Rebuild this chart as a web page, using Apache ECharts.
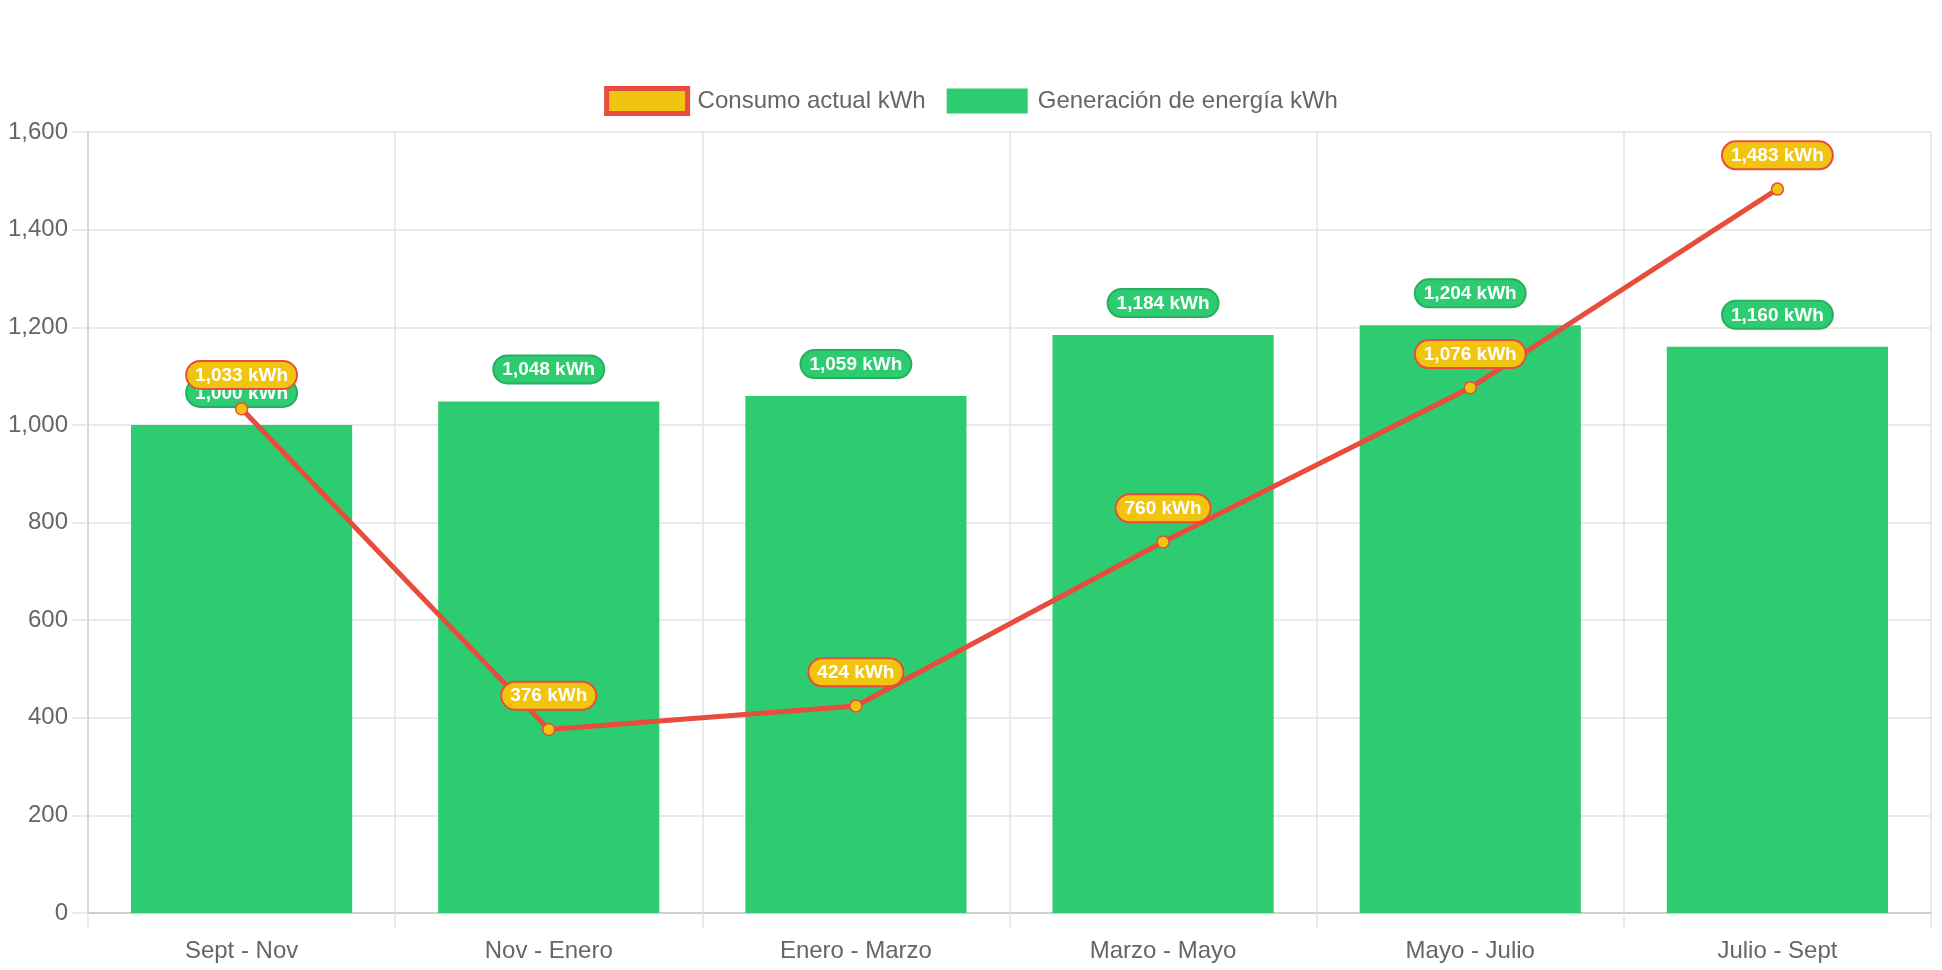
<!DOCTYPE html>
<html>
<head>
<meta charset="utf-8">
<script src="https://cdn.jsdelivr.net/npm/echarts@6/dist/echarts.min.js"></script>
<style>
html,body{margin:0;padding:0;background:#fff;}
#chart{width:1942px;height:970px;}
</style>
</head>
<body>
<div id="chart"></div>
<script>
const categories = ['Sept - Nov', 'Nov - Enero', 'Enero - Marzo', 'Marzo - Mayo', 'Mayo - Julio', 'Julio - Sept'];
const consumo = [1033, 376, 424, 760, 1076, 1483];
const generacion = [1000, 1048, 1059, 1184, 1204, 1160];
const yTicks = { min: 0, max: 1600, interval: 200 };
const seriesNames = ['Consumo actual kWh', 'Generación de energía kWh'];

const FONT = '"Liberation Sans", Arial, Helvetica, sans-serif';
const fmt = v => Number(v).toLocaleString('en-US') + ' kWh';

const chart = echarts.init(document.getElementById('chart'), null, { renderer: 'canvas' });
chart.setOption({
  animation: false,
  textStyle: { fontFamily: FONT },
  legend: {
    top: 81,
    left: 'center',
    itemWidth: 81,
    itemHeight: 25,
    itemGap: 21,
    textStyle: { fontSize: 24, color: '#666', fontFamily: FONT, padding: [0, 0, 0, 5] },
    data: [
      { name: seriesNames[0], icon: 'rect', itemStyle: { color: '#f1c40f', borderColor: '#e74c3c', borderWidth: 5 } },
      { name: seriesNames[1], icon: 'rect', itemStyle: { color: '#2ecc71', borderWidth: 0 } }
    ]
  },
  grid: { left: 88, right: 11, top: 132, bottom: 57, containLabel: false },
  xAxis: {
    type: 'category',
    data: categories,
    boundaryGap: true,
    axisLine: { show: true, lineStyle: { color: '#c8c8c8', width: 1.5 } },
    axisTick: { show: true, length: 15, lineStyle: { color: '#e3e3e3', width: 1.5 } },
    splitLine: { show: true, lineStyle: { color: '#e3e3e3', width: 1.5 } },
    axisLabel: { color: '#666', fontSize: 24, margin: 26, fontFamily: FONT }
  },
  yAxis: {
    type: 'value',
    min: yTicks.min, max: yTicks.max, interval: yTicks.interval,
    axisLine: { show: true, lineStyle: { color: '#d0d0d0', width: 1.5 } },
    axisTick: { show: true, length: 16, lineStyle: { color: '#e3e3e3', width: 1.5 } },
    splitLine: { show: true, lineStyle: { color: '#e3e3e3', width: 1.5 } },
    axisLabel: { color: '#666', fontSize: 24, margin: 20, fontFamily: FONT, padding: [5, 0, 0, 0],
      formatter: v => Number(v).toLocaleString('en-US') }
  },
  series: [
    {
      name: seriesNames[0],
      type: 'line',
      data: consumo,
      z: 5,
      symbol: 'circle',
      symbolSize: 12,
      lineStyle: { color: '#e74c3c', width: 5 },
      itemStyle: { color: '#f1c40f', borderColor: '#e74c3c', borderWidth: 1.5 },
      label: {
        show: true,
        position: 'top',
        distance: 14,
        formatter: p => fmt(p.value),
        color: '#fff',
        fontWeight: 'bold',
        fontSize: 19,
        fontFamily: FONT,
        backgroundColor: '#f1c40f',
        borderColor: '#e74c3c',
        borderWidth: 2,
        borderRadius: 13,
        padding: [4, 8, 3, 8]
      }
    },
    {
      name: seriesNames[1],
      type: 'bar',
      data: generacion,
      z: 2,
      barWidth: '72%',
      itemStyle: { color: '#2ecc71' },
      label: {
        show: true,
        position: 'top',
        distance: 19,
        formatter: p => fmt(p.value),
        color: '#fff',
        fontWeight: 'bold',
        fontSize: 19,
        fontFamily: FONT,
        backgroundColor: '#2ecc71',
        borderColor: '#27ae60',
        borderWidth: 2,
        borderRadius: 13,
        padding: [4, 8, 3, 8]
      }
    }
  ]
});
</script>
</body>
</html>
